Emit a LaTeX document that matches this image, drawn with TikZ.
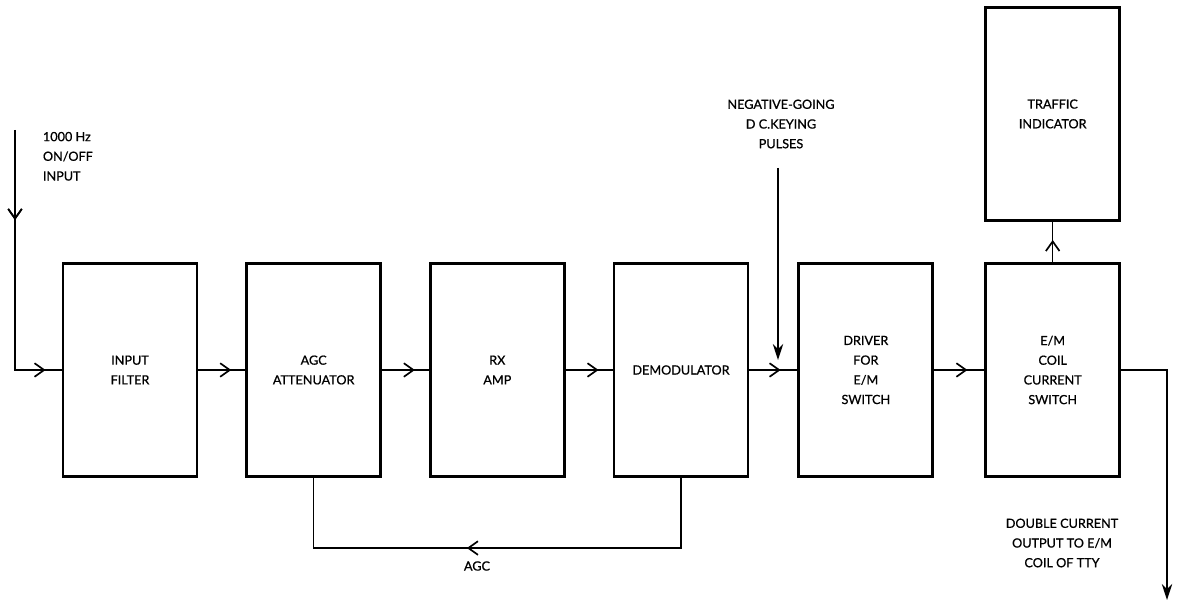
\documentclass[tikz,border=0pt]{standalone}
\usepackage{fontspec}
\setmainfont{Lato}[FakeBold=0.8]
\usetikzlibrary{arrows.meta,positioning,decorations.markings}

\begin{document}
\begin{tikzpicture}[
  x=0.025cm, y=-0.025cm,
  node distance=1.17cm,
  box/.style={rectangle, draw, line width=2pt, minimum width=3.35cm, minimum height=5.33cm, align=center, font=\fontsize{9}{14}\selectfont},
  lbl/.style={align=center, font=\fontsize{9}{14}\selectfont},
  arr/.style={line width=1pt, -{Stealth[length=4mm, width=2.6mm]}},
  flow/.style={line width=1pt, postaction={decorate},
    decoration={markings, mark=at position #1 with {\arrow{Straight Barb[length=2.4mm, width=3.4mm, line width=1.2pt]}}}},
  flow/.default=-0.35cm
]
  \useasboundingbox (0,0) rectangle (1177,603);

  % main chain
  \node[box] (filter) at (130,370) {INPUT\\FILTER};
  \node[box, right=of filter] (agc) {AGC\\ATTENUATOR};
  \node[box, right=of agc] (rx) {RX\\AMP};
  \node[box, right=of rx] (demod) {DEMODULATOR};
  \node[box, right=1.2cm of demod] (driver) {DRIVER\\FOR\\E/M\\SWITCH};
  \node[box, right=1.25cm of driver] (em) {E/M\\COIL\\CURRENT\\SWITCH};
  \node[box, above=1.0cm of em] (traffic) {TRAFFIC\\INDICATOR};

  % labels
  \node[lbl, anchor=north west, align=left] (inlbl) at (38,127) {1000 Hz\\ON/OFF\\INPUT};
  \node[lbl] (neglbl) at (781,124) {NEGATIVE-GOING\\D C.KEYING\\PULSES};
  \node[lbl] (outlbl) at (1062,543) {DOUBLE CURRENT\\OUTPUT TO E/M\\COIL OF TTY};
  \node[lbl] (agclbl) at (477,566) {AGC};

  \coordinate (in) at (15,130);
  \coordinate (negtop) at (778,168);
  \coordinate (negend) at (778,360);
  \coordinate (out) at (1167,600);

  % connectors
  \draw[flow=2.25cm, postaction={decorate, decoration={markings, mark=at position -0.4cm with {\arrow{Straight Barb[length=2.4mm, width=3.4mm, line width=1.2pt]}}}}] (in) |- (filter.west);
  \draw[flow] (filter) -- (agc);
  \draw[flow] (agc) -- (rx);
  \draw[flow] (rx) -- (demod);
  \draw[flow=-0.42cm] (demod) -- (driver);
  \draw[flow=-0.42cm] (driver) -- (em);
  \draw[flow=0.55] (em) -- (traffic);
  \draw[flow=7.1cm] (demod.south) -- ++(0,70) -| (agc.south);
  \draw[arr] (negtop) -- (negend);
  \draw[arr] (em.east) -| (out);
\end{tikzpicture}
\end{document}
